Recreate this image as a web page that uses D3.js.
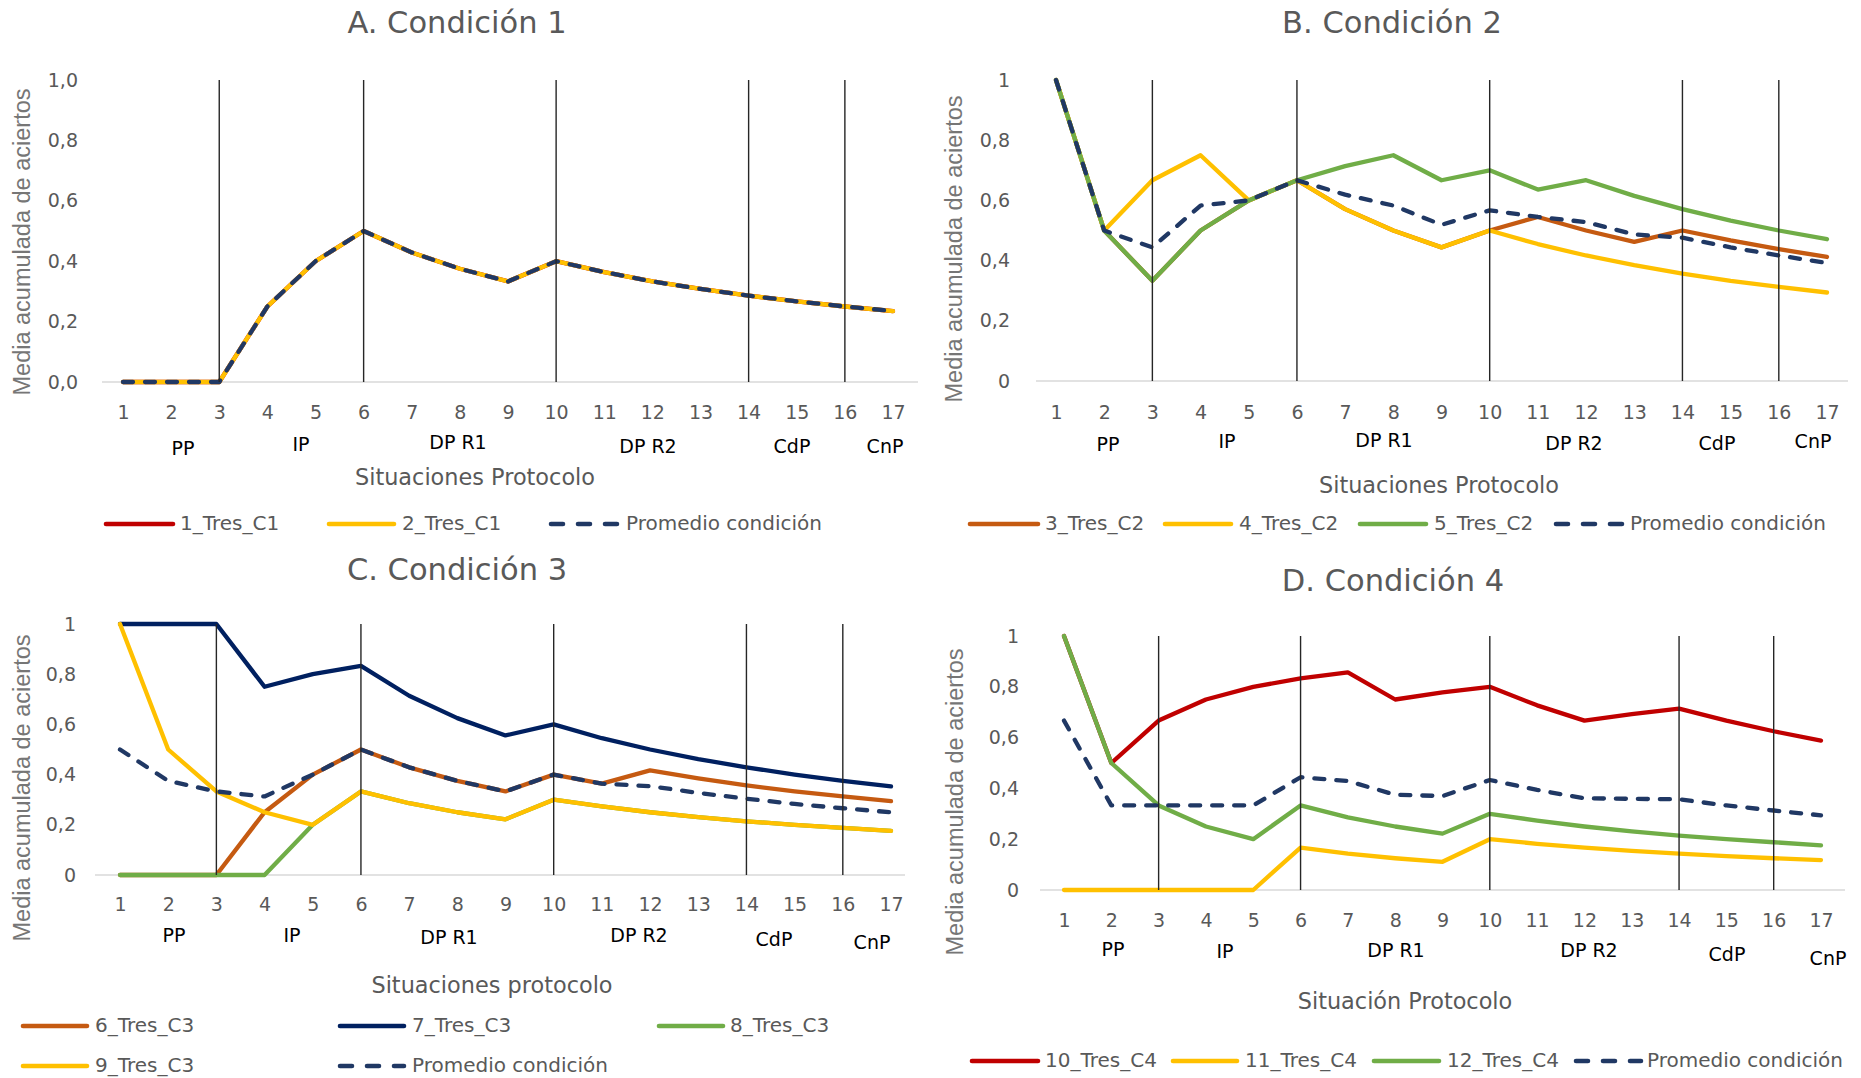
<!DOCTYPE html>
<html>
<head>
<meta charset="utf-8">
<script src="https://cdn.jsdelivr.net/npm/d3@7"></script>
<style>
  html, body { margin: 0; padding: 0; background: #fff; }
  svg { display: block; }
</style>
</head>
<body>
<script>
// ---------------- DATA ----------------
const categories = ["1","2","3","4","5","6","7","8","9","10","11","12","13","14","15","16","17"];
const phaseLabels = ["PP","IP","DP R1","DP R2","CdP","CnP"];
const phaseDividers = ["3","6","10","14","16"];
const yTickValues = [0, 0.2, 0.4, 0.6, 0.8, 1];
const yTickLabelsA = ["0,0","0,2","0,4","0,6","0,8","1,0"];
const yTickLabelsBCD = ["0","0,2","0,4","0,6","0,8","1"];

// Condición 1
const tres1_C1 = [0,0,0,0.25,0.4,0.5,0.429,0.375,0.333,0.4,0.364,0.333,0.308,0.286,0.267,0.25,0.235];
const tres2_C1 = [0,0,0,0.25,0.4,0.5,0.429,0.375,0.333,0.4,0.364,0.333,0.308,0.286,0.267,0.25,0.235];
const prom_C1  = [0,0,0,0.25,0.4,0.5,0.429,0.375,0.333,0.4,0.364,0.333,0.308,0.286,0.267,0.25,0.235];

// Condición 2
const tres3_C2 = [1,0.5,0.333,0.5,0.6,0.667,0.571,0.5,0.444,0.5,0.545,0.5,0.462,0.5,0.467,0.438,0.412];
const tres4_C2 = [1,0.5,0.667,0.75,0.6,0.667,0.571,0.5,0.444,0.5,0.455,0.417,0.385,0.357,0.333,0.313,0.294];
const tres5_C2 = [1,0.5,0.333,0.5,0.6,0.667,0.714,0.75,0.667,0.7,0.636,0.667,0.615,0.571,0.533,0.5,0.471];
const prom_C2  = [1,0.5,0.444,0.583,0.6,0.667,0.619,0.583,0.519,0.567,0.545,0.528,0.487,0.476,0.444,0.417,0.392];

// Condición 3
const tres6_C3 = [0,0,0,0.25,0.4,0.5,0.429,0.375,0.333,0.4,0.364,0.417,0.385,0.357,0.333,0.313,0.294];
const tres7_C3 = [1,1,1,0.75,0.8,0.833,0.714,0.625,0.556,0.6,0.545,0.5,0.462,0.429,0.4,0.375,0.353];
const tres8_C3 = [0,0,0,0,0.2,0.333,0.286,0.25,0.222,0.3,0.273,0.25,0.231,0.214,0.2,0.188,0.176];
const tres9_C3 = [1,0.5,0.333,0.25,0.2,0.333,0.286,0.25,0.222,0.3,0.273,0.25,0.231,0.214,0.2,0.188,0.176];
const prom_C3  = [0.5,0.375,0.333,0.313,0.4,0.5,0.429,0.375,0.333,0.4,0.364,0.354,0.327,0.304,0.283,0.266,0.25];

// Condición 4
const tres10_C4 = [1,0.5,0.667,0.75,0.8,0.833,0.857,0.75,0.778,0.8,0.727,0.667,0.692,0.714,0.667,0.625,0.588];
const tres11_C4 = [0,0,0,0,0,0.167,0.143,0.125,0.111,0.2,0.182,0.167,0.154,0.143,0.133,0.125,0.118];
const tres12_C4 = [1,0.5,0.333,0.25,0.2,0.333,0.286,0.25,0.222,0.3,0.273,0.25,0.231,0.214,0.2,0.188,0.176];
const prom_C4   = [0.667,0.333,0.333,0.333,0.333,0.444,0.429,0.375,0.370,0.433,0.394,0.361,0.359,0.357,0.333,0.313,0.294];

// ---------------- STYLES ----------------
const COL = {
  red: "#C00000", yellow: "#FFC000", orange: "#C55A11", green: "#70AD47",
  navy: "#002060", dash: "#203864"
};
const FONT = "'DejaVu Sans', 'Open Sans', sans-serif";
const FONT_Y = "'Liberation Sans', Arial, sans-serif";

const panels = [
  {
    title: "A. Condición 1", titleX: 457, titleY: 24,
    xL: 123, xR: 893, yT: 80, yB: 382, axX0: 102, axX1: 918,
    tickRight: 78, tickLabels: yTickLabelsA, xTickY: 413,
    groups: [[183,449],[301,445],[458,443],[648,447],[792,447],[885,447]],
    axisTitle: "Situaciones Protocolo", axisTitleX: 475, axisTitleY: 478,
    yTitleX: 24, yTitleY: 242,
    series: [
      {name: "1_Tres_C1", data: tres1_C1, color: COL.red},
      {name: "2_Tres_C1", data: tres2_C1, color: COL.yellow},
      {name: "Promedio condición", data: prom_C1, color: COL.dash, dashed: true}
    ],
    legend: [[104,175,180,524],[327,396,402,524],[549,620,626,524]]
  },
  {
    title: "B. Condición 2", titleX: 1392, titleY: 24,
    xL: 1056, xR: 1827, yT: 80, yB: 381, axX0: 1036, axX1: 1848,
    tickRight: 1010, tickLabels: yTickLabelsBCD, xTickY: 413,
    groups: [[1108,445],[1227,442],[1384,441],[1574,444],[1717,444],[1813,442]],
    axisTitle: "Situaciones Protocolo", axisTitleX: 1439, axisTitleY: 486,
    yTitleX: 956, yTitleY: 249,
    series: [
      {name: "3_Tres_C2", data: tres3_C2, color: COL.orange},
      {name: "4_Tres_C2", data: tres4_C2, color: COL.yellow},
      {name: "5_Tres_C2", data: tres5_C2, color: COL.green},
      {name: "Promedio condición", data: prom_C2, color: COL.dash, dashed: true}
    ],
    legend: [[968,1040,1045,524],[1163,1233,1239,524],[1358,1428,1434,524],[1554,1624,1630,524]]
  },
  {
    title: "C. Condición 3", titleX: 457, titleY: 571,
    xL: 120, xR: 891, yT: 624, yB: 875, axX0: 95, axX1: 905,
    tickRight: 76, tickLabels: yTickLabelsBCD, xTickY: 905,
    groups: [[174,936],[292,936],[449,938],[639,936],[774,940],[872,943]],
    axisTitle: "Situaciones protocolo", axisTitleX: 492, axisTitleY: 986,
    yTitleX: 24, yTitleY: 788,
    series: [
      {name: "6_Tres_C3", data: tres6_C3, color: COL.orange},
      {name: "7_Tres_C3", data: tres7_C3, color: COL.navy},
      {name: "8_Tres_C3", data: tres8_C3, color: COL.green},
      {name: "9_Tres_C3", data: tres9_C3, color: COL.yellow},
      {name: "Promedio condición", data: prom_C3, color: COL.dash, dashed: true}
    ],
    legend: [[21,89,95,1026],[338,406,412,1026],[657,725,730,1026],[21,89,95,1066],[338,406,412,1066]]
  },
  {
    title: "D. Condición 4", titleX: 1393, titleY: 582,
    xL: 1064, xR: 1821, yT: 636, yB: 890, axX0: 1040, axX1: 1845,
    tickRight: 1019, tickLabels: yTickLabelsBCD, xTickY: 921,
    groups: [[1113,950],[1225,952],[1396,951],[1589,951],[1727,955],[1828,959]],
    axisTitle: "Situación Protocolo", axisTitleX: 1405, axisTitleY: 1002,
    yTitleX: 957, yTitleY: 802,
    series: [
      {name: "10_Tres_C4", data: tres10_C4, color: COL.red},
      {name: "11_Tres_C4", data: tres11_C4, color: COL.yellow},
      {name: "12_Tres_C4", data: tres12_C4, color: COL.green},
      {name: "Promedio condición", data: prom_C4, color: COL.dash, dashed: true}
    ],
    legend: [[970,1040,1045,1061],[1171,1239,1245,1061],[1372,1441,1447,1061],[1574,1643,1647,1061]]
  }
];

// ---------------- DRAW ----------------
const W = 1861, H = 1078;
const svg = d3.select("body").append("svg").attr("width", W).attr("height", H);
svg.append("rect").attr("width", W).attr("height", H).attr("fill", "#fff");

const LW = 4.3;
const DASH = "10,12";

panels.forEach(p => {
  const g = svg.append("g");
  const x = d3.scalePoint().domain(categories).range([p.xL, p.xR]);
  const y = d3.scaleLinear().domain([0, 1]).range([p.yB, p.yT]);

  // title
  g.append("text").attr("x", p.titleX).attr("y", p.titleY)
    .attr("text-anchor", "middle").attr("dominant-baseline", "middle")
    .attr("font-family", FONT).attr("font-size", 30.5).attr("fill", "#595959")
    .text(p.title);

  // y axis (labels only)
  const yAxis = d3.axisLeft(y).tickValues(yTickValues)
    .tickFormat((d, i) => p.tickLabels[i]).tickSize(0).tickPadding(0);
  const yg = g.append("g").attr("transform", `translate(${p.tickRight},0)`).call(yAxis);
  yg.select(".domain").remove();
  yg.selectAll("text").attr("font-family", FONT).attr("font-size", 19).attr("fill", "#595959");

  // x axis
  const xAxis = d3.axisBottom(x).tickSize(0).tickPadding(0);
  const xg = g.append("g").attr("transform", `translate(0,${p.xTickY})`).call(xAxis);
  xg.select(".domain").remove();
  xg.selectAll("text").attr("font-family", FONT).attr("font-size", 19).attr("fill", "#595959")
    .attr("dy", null).attr("dominant-baseline", "middle");

  // baseline
  g.append("line").attr("x1", p.axX0).attr("x2", p.axX1)
    .attr("y1", y(0)).attr("y2", y(0))
    .attr("stroke", "#D9D9D9").attr("stroke-width", 1.5);

  // phase group labels
  g.selectAll(".grp").data(phaseLabels).enter().append("text")
    .attr("x", (d, i) => p.groups[i][0]).attr("y", (d, i) => p.groups[i][1])
    .attr("text-anchor", "middle").attr("dominant-baseline", "middle")
    .attr("font-family", FONT).attr("font-size", 19).attr("fill", "#000")
    .text(d => d);

  // axis title
  g.append("text").attr("x", p.axisTitleX).attr("y", p.axisTitleY)
    .attr("text-anchor", "middle").attr("dominant-baseline", "middle")
    .attr("font-family", FONT).attr("font-size", 22.4).attr("fill", "#595959")
    .text(p.axisTitle);

  // y title
  g.append("text")
    .attr("transform", `translate(${p.yTitleX},${p.yTitleY}) rotate(-90)`)
    .attr("text-anchor", "middle").attr("dominant-baseline", "middle")
    .attr("font-family", FONT_Y).attr("font-size", 23.5).attr("fill", "#767676")
    .text("Media acumulada de aciertos");

  // series
  const line = d3.line().x((d, i) => x(categories[i])).y(d => y(d));
  p.series.forEach(s => {
    g.append("path").datum(s.data)
      .attr("d", line).attr("fill", "none")
      .attr("stroke", s.color).attr("stroke-width", LW)
      .attr("stroke-linejoin", "round").attr("stroke-linecap", "round")
      .attr("stroke-dasharray", s.dashed ? DASH : null);
  });

  // phase dividers (drawn over the lines, as in the original)
  g.selectAll(".div").data(phaseDividers).enter().append("line")
    .attr("x1", d => x(d)).attr("x2", d => x(d))
    .attr("y1", y(1)).attr("y2", y(0))
    .attr("stroke", "#262626").attr("stroke-width", 1.4);

  // legend
  p.series.forEach((s, i) => {
    const [x0, x1, tx, ly] = p.legend[i];
    g.append("line").attr("x1", x0 + 2).attr("x2", x1 - 2).attr("y1", ly).attr("y2", ly)
      .attr("stroke", s.color).attr("stroke-width", LW + 0.3)
      .attr("stroke-linecap", "round")
      .attr("stroke-dasharray", s.dashed ? "12,15" : null);
    g.append("text").attr("x", tx).attr("y", ly)
      .attr("dominant-baseline", "middle")
      .attr("font-family", FONT).attr("font-size", 20).attr("fill", "#595959")
      .text(s.name);
  });
});
</script>
</body>
</html>
